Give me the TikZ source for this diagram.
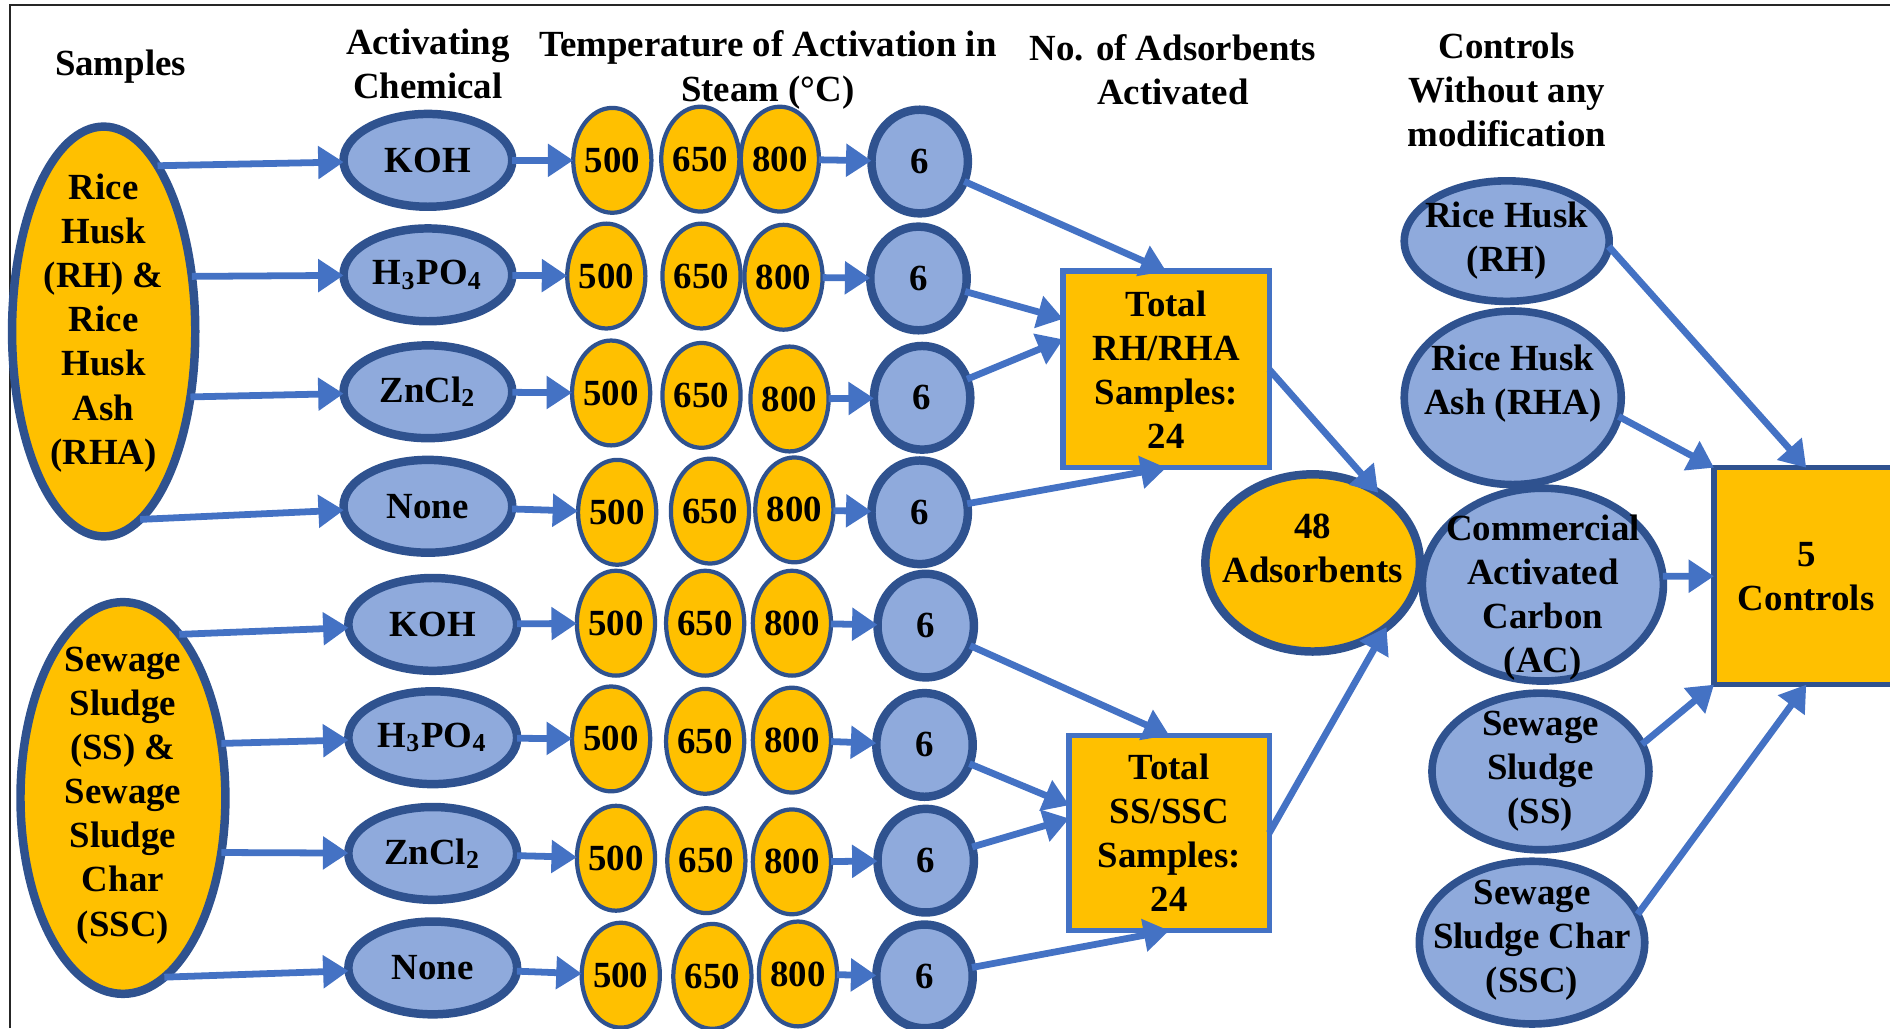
\documentclass[tikz,border=0pt]{standalone}
\usepackage{fontspec}
\setmainfont{Liberation Serif}
\usepackage{tikz}
\usetikzlibrary{arrows.meta}
\usetikzlibrary{shapes.geometric}
\definecolor{gold}{HTML}{FFC000}
\definecolor{paleblue}{HTML}{8FAADC}
\definecolor{edgeblue}{HTML}{2F528F}
\definecolor{arrowblue}{HTML}{4472C4}
\newcommand{\diagramfont}{\fontsize{8.7}{10.4}\selectfont\bfseries}
\tikzstyle{blob}=[draw=edgeblue, ellipse, inner sep=0, outer sep=0, line width=2.0pt]
\tikzstyle{feedstock}=[blob, fill=gold]
\tikzstyle{agent}=[blob, fill=paleblue, minimum width=1.40cm, minimum height=0.77cm]
\tikzstyle{tempnode}=[blob, fill=gold, line width=1.0pt, minimum width=0.62cm, minimum height=0.87cm]
\tikzstyle{tally}=[blob, fill=paleblue, minimum width=0.80cm, minimum height=0.86cm]
\tikzstyle{ctrl}=[blob, fill=paleblue, line width=1.8pt]
\tikzstyle{sumbox}=[draw=arrowblue, fill=gold, line width=1.3pt, inner sep=0, outer sep=0, align=center]
\tikzstyle{heading}=[align=center]
\tikzstyle{arrowline}=[arrowblue, line width=1.6pt, -{Triangle[length=6pt, width=7.5pt]}]
\tikzstyle{flowchart}=[every node/.style={font=\diagramfont},
                       % Text inside the larger shapes is set as a centred label.
                       every label/.style={align=center}]

\begin{document}
\begin{tikzpicture}[flowchart]
    \useasboundingbox (0, 0) rectangle (15.68, -8.53);
    \draw[line width=0.5pt, black!85] (0.08, -8.53) -- (0.08, -0.04) -- (15.68, -0.04);

    \node (hSamples) at (1.00, -0.55) {Samples};
    \node[heading] (hChem) at (3.55, -0.53) {Activating\\Chemical};
    \node[heading] (hTemp) at (6.37, -0.58) {Temperature of Activation in\\Steam (°C)};
    \node[heading] (hCount) at (9.73, -0.58) {No. of Adsorbents\\Activated};
    \node[heading] (hCtrl) at (12.50, -0.745) {Controls\\Without any\\modification};

    \node[feedstock, minimum width=1.52cm, minimum height=3.40cm,
          label={[yshift=0.07cm]center:Rice\\Husk\\(RH) \&\\Rice\\Husk\\Ash\\(RHA)}] (RH) at (0.86, -2.75) {};
    \node[feedstock, minimum width=1.70cm, minimum height=3.25cm,
          label={[yshift=0.02cm]center:Sewage\\Sludge\\(SS) \&\\Sewage\\Sludge\\Char\\(SSC)}] (SS) at (1.02, -6.62) {};

    \node[agent] (K1) at (3.55, -1.33) {KOH};
    \node[agent] (P1) at (3.55, -2.28) {H\textsubscript{3}PO\textsubscript{4}};
    \node[agent] (Z1) at (3.55, -3.25) {ZnCl\textsubscript{2}};
    \node[agent] (N1) at (3.55, -4.20) {None};
    \node[agent] (K2) at (3.59, -5.18) {KOH};
    \node[agent] (P2) at (3.59, -6.12) {H\textsubscript{3}PO\textsubscript{4}};
    \node[agent] (Z2) at (3.59, -7.08) {ZnCl\textsubscript{2}};
    \node[agent] (N2) at (3.59, -8.03) {None};

    \node[tempnode] (a1) at (5.08, -1.33) {500};
    \node[tempnode] (b1) at (5.81, -1.32) {650};
    \node[tempnode] (c1) at (6.47, -1.32) {800};
    \node[tempnode] (a2) at (5.03, -2.29) {500};
    \node[tempnode] (b2) at (5.82, -2.29) {650};
    \node[tempnode] (c2) at (6.50, -2.30) {800};
    \node[tempnode] (a3) at (5.07, -3.26) {500};
    \node[tempnode] (b3) at (5.82, -3.28) {650};
    \node[tempnode] (c3) at (6.55, -3.31) {800};
    \node[tempnode] (a4) at (5.12, -4.25) {500};
    \node[tempnode] (b4) at (5.89, -4.24) {650};
    \node[tempnode] (c4) at (6.59, -4.23) {800};
    \node[tempnode] (a5) at (5.11, -5.17) {500};
    \node[tempnode] (b5) at (5.85, -5.17) {650};
    \node[tempnode] (c5) at (6.57, -5.17) {800};
    \node[tempnode] (a6) at (5.07, -6.13) {500};
    \node[tempnode] (b6) at (5.85, -6.15) {650};
    \node[tempnode] (c6) at (6.57, -6.14) {800};
    \node[tempnode] (a7) at (5.11, -7.12) {500};
    \node[tempnode] (b7) at (5.86, -7.14) {650};
    \node[tempnode] (c7) at (6.57, -7.15) {800};
    \node[tempnode] (a8) at (5.15, -8.09) {500};
    \node[tempnode] (b8) at (5.91, -8.10) {650};
    \node[tempnode] (c8) at (6.62, -8.08) {800};

    \node[tally] (n1) at (7.63, -1.34) {6};
    \node[tally] (n2) at (7.62, -2.31) {6};
    \node[tally] (n3) at (7.65, -3.30) {6};
    \node[tally] (n4) at (7.63, -4.25) {6};
    \node[tally] (n5) at (7.68, -5.19) {6};
    \node[tally] (n6) at (7.67, -6.18) {6};
    \node[tally] (n7) at (7.68, -7.14) {6};
    \node[tally] (n8) at (7.67, -8.10) {6};

    \node[sumbox, minimum width=1.71cm, minimum height=1.63cm] (totRH) at (9.675, -3.065) {Total\\RH/RHA\\Samples:\\24};
    \node[sumbox, minimum width=1.66cm, minimum height=1.62cm] (totSS) at (9.70, -6.91) {Total\\SS/SSC\\Samples:\\24};
    \node[feedstock, minimum width=1.78cm, minimum height=1.47cm,
          label={[yshift=0.12cm]center:48\\Adsorbents}] (ads) at (10.89, -4.67) {};

    \node[ctrl, minimum width=1.70cm, minimum height=1.00cm,
          label={center:Rice Husk\\(RH)}] (cRH) at (12.50, -2.00) {};
    \node[ctrl, minimum width=1.80cm, minimum height=1.44cm,
          label={[yshift=0.12cm]center:Rice Husk\\Ash (RHA)}] (cRHA) at (12.55, -3.30) {};
    \node[ctrl, minimum width=2.00cm, minimum height=1.60cm,
          label={[yshift=-0.11cm]center:Commercial\\Activated\\Carbon\\(AC)}] (cAC) at (12.80, -4.85) {};
    \node[ctrl, minimum width=1.80cm, minimum height=1.30cm,
          label={center:Sewage\\Sludge\\(SS)}] (cSS) at (12.78, -6.40) {};
    \node[ctrl, minimum width=1.87cm, minimum height=1.35cm,
          label={[yshift=0.02cm]center:Sewage\\Sludge Char\\(SSC)}] (cSSC) at (12.71, -7.82) {};
    \node[sumbox, draw=edgeblue, minimum width=1.53cm, minimum height=1.80cm] (ctrlbox) at (14.985, -4.78) {5\\Controls};

    \draw[arrowline] (RH.72) -- (K1);
    \draw[arrowline] (RH.32) -- (P1);
    \draw[arrowline] (RH.-37) -- (Z1);
    \draw[arrowline] (RH.-79) -- (N1);
    \draw[arrowline] (SS.71) -- (K2);
    \draw[arrowline] (SS.29) -- (P2);
    \draw[arrowline] (SS.-29) -- (Z2);
    \draw[arrowline] (SS.-77) -- (N2);

    \draw[arrowline] (K1) -- (a1);  \draw[arrowline] (c1) -- (n1);
    \draw[arrowline] (P1) -- (a2);  \draw[arrowline] (c2) -- (n2);
    \draw[arrowline] (Z1) -- (a3);  \draw[arrowline] (c3) -- (n3);
    \draw[arrowline] (N1) -- (a4);  \draw[arrowline] (c4) -- (n4);
    \draw[arrowline] (K2) -- (a5);  \draw[arrowline] (c5) -- (n5);
    \draw[arrowline] (P2) -- (a6);  \draw[arrowline] (c6) -- (n6);
    \draw[arrowline] (Z2) -- (a7);  \draw[arrowline] (c7) -- (n7);
    \draw[arrowline] (N2) -- (a8);  \draw[arrowline] (c8) -- (n8);

    \draw[arrowline] (n1) -- (totRH.north);
    \draw[arrowline] (n2) -- ([yshift=0.42cm]totRH.west);
    \draw[arrowline] (n3) -- ([yshift=0.25cm]totRH.west);
    \draw[arrowline] (n4) -- (totRH.south);
    \draw[arrowline] (n5) -- (totSS.north);
    \draw[arrowline] (n6) -- ([yshift=0.23cm]totSS.west);
    \draw[arrowline] (n7) -- ([yshift=0.12cm]totSS.west);
    \draw[arrowline] (n8) -- (totSS.south);
    \draw[arrowline] (totRH.east) -- (ads.47);
    \draw[arrowline] (totSS.east) -- (ads.-41);

    \draw[arrowline] (cRH.-3) -- (ctrlbox.north);
    \draw[arrowline] (cRHA.-10) -- (ctrlbox.north west);
    \draw[arrowline] (cAC.4) -- (ctrlbox.west);
    \draw[arrowline] (cSS.15) -- (ctrlbox.south west);
    \draw[arrowline] (cSSC.15) -- (ctrlbox.south);
\end{tikzpicture}
\end{document}
